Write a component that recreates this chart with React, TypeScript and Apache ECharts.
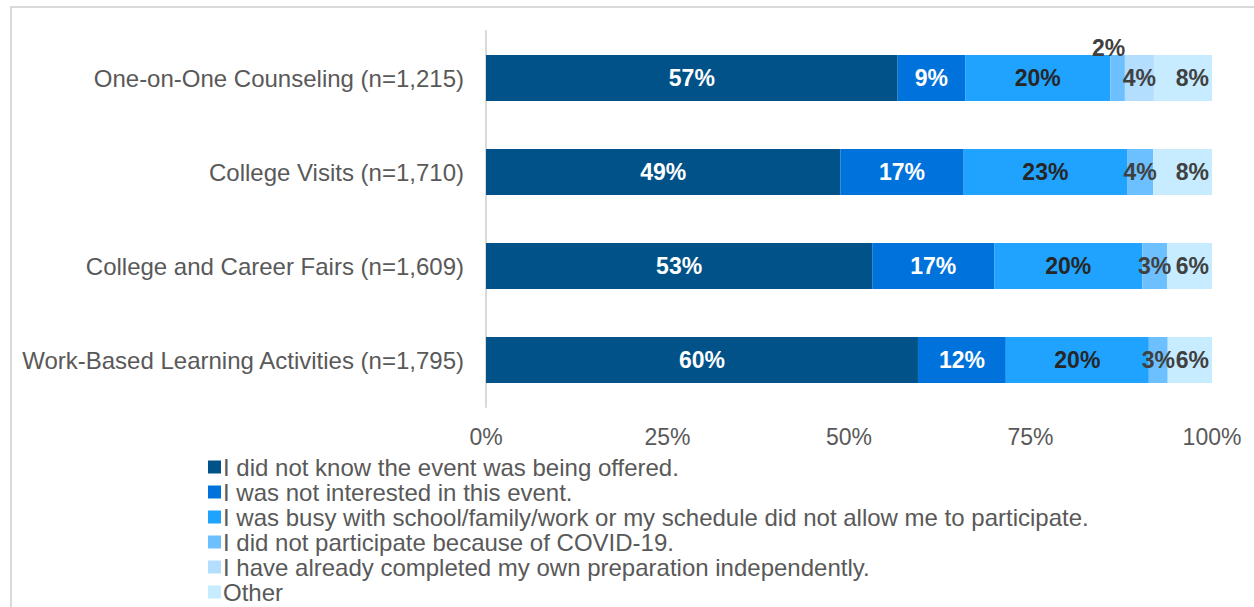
import React, { useEffect, useRef } from "react";
import * as echarts from "echarts";

const categories = [
  "One-on-One Counseling (n=1,215)",
  "College Visits (n=1,710)",
  "College and Career Fairs (n=1,609)",
  "Work-Based Learning Activities (n=1,795)",
];
const seriesNames = [
  "I did not know the event was being offered.",
  "I was not interested in this event.",
  "I was busy with school/family/work or my schedule did not allow me to participate.",
  "I did not participate because of COVID-19.",
  "I have already completed my own preparation independently.",
  "Other",
];
const notKnown = [56.7, 48.8, 53.2, 59.5];
const notInterested = [9.3, 17.0, 16.8, 12.1];
const busy = [20.0, 22.5, 20.4, 19.7];
const covid = [2.0, 3.6, 3.4, 2.6];
const completed = [4.0, 0, 0, 0];
const other = [8.0, 8.1, 6.2, 6.1];
const tickLabels = ["0%", "25%", "50%", "75%", "100%"];

const colors = ["#005288", "#0072dc", "#20a3ff", "#6cc0ff", "#b4defe", "#c7ecff"];
const labelColors = ["#ffffff", "#ffffff", "#262626", "#404040", "#404040", "#404040"];

export default function App() {
  const ref = useRef<HTMLDivElement>(null);
  useEffect(() => {
    document.body.style.margin = "0";
    const chart = echarts.init(ref.current!, null, { renderer: "svg" });
    const allData = [notKnown, notInterested, busy, covid, completed, other];
    const series = allData.map((d, i) => ({
      name: seriesNames[i],
      type: "bar",
      stack: "total",
      barWidth: 46,
      itemStyle: { color: colors[i] },
      label: {
        show: true,
        position: i === 5 ? "insideRight" : "inside",
        distance: 3,
        fontFamily: "Liberation Sans, Arial, sans-serif",
        fontWeight: "bold",
        fontSize: 23,
        color: labelColors[i],
        formatter: (p: any) => (p.value > 0 ? Math.round(p.value) + "%" : ""),
      },
      data: d.map((v, j) => {
        if (i === 3 && j === 0) {
          return {
            value: v,
            label: { position: "top", distance: -4, offset: [-9, 0], color: "#404040" },
          };
        }
        return v;
      }),
    }));
    chart.setOption({
      animation: false,
      textStyle: { fontFamily: "Liberation Sans, Arial, sans-serif" },
      grid: { left: 486, right: 42, top: 31, bottom: 200, containLabel: false },
      xAxis: {
        type: "value",
        min: 0,
        max: 100,
        interval: 25,
        axisLine: { show: false },
        axisTick: { show: false },
        splitLine: { show: false },
        axisLabel: {
          margin: 18,
          fontSize: 23,
          color: "#595959",
          formatter: (v: number) => tickLabels[v / 25],
        },
      },
      yAxis: {
        type: "category",
        data: categories,
        inverse: true,
        axisLine: { show: true, lineStyle: { color: "#d9d9d9", width: 2 } },
        axisTick: { show: false },
        axisLabel: { margin: 22, fontSize: 24, color: "#595959" },
      },
      legend: {
        orient: "vertical",
        left: 203,
        top: 450,
        height: 200,
        itemWidth: 13,
        itemHeight: 13,
        itemGap: 1,
        icon: "rect",
        textStyle: { fontSize: 24, color: "#595959", padding: [0, 0, 0, -3], lineHeight: 24 },
        data: seriesNames,
      },
      graphic: [
        {
          type: "line",
          shape: { x1: 10, y1: 7, x2: 1254, y2: 7 },
          style: { stroke: "#d9d9d9", lineWidth: 2 },
        },
        {
          type: "line",
          shape: { x1: 11, y1: 7, x2: 11, y2: 607 },
          style: { stroke: "#d9d9d9", lineWidth: 2 },
        },
      ],
      series,
    });
    return () => chart.dispose();
  }, []);
  return <div ref={ref} style={{ width: 1254, height: 607 }} />;
}
